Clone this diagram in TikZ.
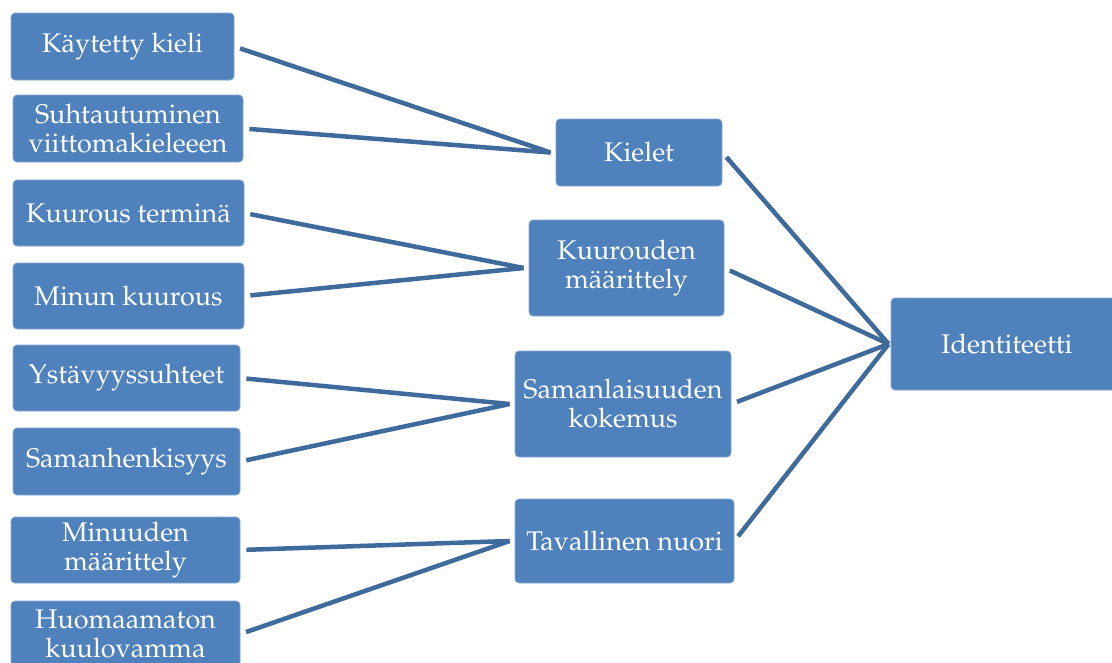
\documentclass[tikz,border=0pt]{standalone}
\usepackage[T1]{fontenc}
\usepackage{mathpazo}
\definecolor{boxblue}{HTML}{4F81BD}
\definecolor{lineblue}{HTML}{3E6A9C}
\begin{document}
\begin{tikzpicture}[x=1pt,y=-1pt,
  box/.style={rectangle, rounded corners=4pt, fill=boxblue, draw=boxblue!70!white, line width=0.8pt,
    text=white, align=center, inner sep=0pt, font=\fontsize{27}{29}\selectfont},
  link/.style={draw=lineblue, line width=4.5pt}]
\clip (0,0) rectangle (1112,662);
\fill[white] (0,0) rectangle (1112,662);
% left column
\node[box, minimum width=223pt, minimum height=67pt] (b1) at (122.5,46.5) {Käytetty kieli};
\node[box, minimum width=230pt, minimum height=67pt] (b2) at (128,128.5) {Suhtautuminen\\viittomakieleeen};
\node[box, minimum width=231pt, minimum height=66pt] (b3) at (128.5,213) {Kuurous terminä};
\node[box, minimum width=231pt, minimum height=66pt] (b4) at (128.5,296) {Minun kuurous};
\node[box, minimum width=227pt, minimum height=66pt] (b5) at (126.5,378) {Ystävyyssuhteet};
\node[box, minimum width=227pt, minimum height=67pt] (b6) at (126.5,461.5) {Samanhenkisyys};
\node[box, minimum width=229pt, minimum height=66pt] (b7) at (125.5,550) {Minuuden\\määrittely};
\node[box, minimum width=229pt, minimum height=66pt] (b8) at (125.5,634) {Huomaamaton\\kuulovamma};
% middle column
\node[box, minimum width=166pt, minimum height=67pt] (m1) at (639,152.5) {Kielet};
\node[box, minimum width=195pt, minimum height=96pt] (m2) at (626.5,268) {Kuurouden\\määrittely};
\node[box, minimum width=216pt, minimum height=106pt] (m3) at (623,404) {Samanlaisuuden\\kokemus};
\node[box, minimum width=219pt, minimum height=84pt] (m4) at (624.5,541) {Tavallinen nuori};
% right
\node[box, minimum width=232pt, minimum height=92pt] (id) at (1007,344) {Identiteetti};
% convergence points
\coordinate (k1) at ([xshift=-5pt]m1.west);
\coordinate (k2) at ([xshift=-5pt]m2.west);
\coordinate (k3) at ([xshift=-5pt]m3.west);
\coordinate (k4) at ([xshift=-5pt]m4.west);
\coordinate (ki) at ([xshift=-2pt]id.west);
% connectors
\draw[link, shorten <=6pt] (b1.east) -- (k1);
\draw[link, shorten <=6pt] (b2.east) -- (k1);
\draw[link, shorten <=6pt] (b3.east) -- (k2);
\draw[link, shorten <=6pt] (b4.east) -- (k2);
\draw[link, shorten <=6pt] (b5.east) -- (k3);
\draw[link, shorten <=6pt] (b6.east) -- (k3);
\draw[link, shorten <=6pt] (b7.east) -- (k4);
\draw[link, shorten <=6pt] (b8.east) -- (k4);
\draw[link, shorten <=6pt] (m1.east) -- (ki);
\draw[link, shorten <=6pt] (m2.east) -- (ki);
\draw[link, shorten <=6pt] (m3.east) -- (ki);
\draw[link, shorten <=6pt] (m4.east) -- (ki);
\end{tikzpicture}
\end{document}
